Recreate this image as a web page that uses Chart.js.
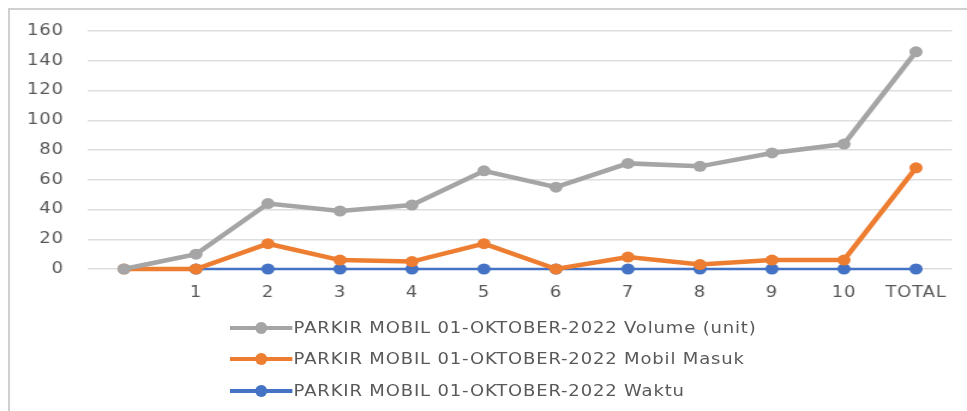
<!DOCTYPE html>
<html>
<head>
<meta charset="utf-8">
<script src="https://cdn.jsdelivr.net/npm/chart.js@4.4.0/dist/chart.umd.min.js"></script>
<style>
    html, body { margin: 0; padding: 0; background: #fff; overflow: hidden; width: 967px; height: 411px; }
    #chart { position: absolute; left: 0; top: 0; display: block; }
    #frame {
        position: absolute; left: 8px; top: 8px; width: 959px; height: 403px;
        border-top: 2px solid #d0d0d0; border-left: 2px solid #d0d0d0;
        box-sizing: border-box; pointer-events: none; z-index: 10;
    }
    /* the reference looks horizontally stretched, so the legend is stretched too */
    #legend { position: absolute; left: 230px; top: 312px; transform: scaleX(1.2); transform-origin: 0 0; }
    .item {
        height: 31.5px; display: flex; align-items: center;
        font: 15px "DejaVu Sans", sans-serif; color: #595959; letter-spacing: 0.7px;
        white-space: nowrap;
    }
    .mark { position: relative; width: 52px; height: 14px; margin-right: 1px; }
    .mark .ln { position: absolute; left: 0; right: 0; top: 5px; height: 4px; }
    .mark .dot { position: absolute; left: 21px; top: 1px; width: 10px; height: 12px; border-radius: 50%; }
</style>
</head>
<body>
<canvas id="chart" width="806" height="411"></canvas>
<div id="legend"></div>
<div id="frame"></div>
<script>
// chart data
const categories = ["", "1", "2", "3", "4", "5", "6", "7", "8", "9", "10", "TOTAL"];
const volumeUnit = [0, 10, 44, 39, 43, 66, 55, 71, 69, 78, 84, 146];
const mobilMasuk = [0, 0, 17, 6, 5, 17, 0, 8, 3, 6, 6, 68];
const waktu = [null, 0, 0, 0, 0, 0, 0, 0, 0, 0, 0, 0];
const yTicks = [0, 20, 40, 60, 80, 100, 120, 140, 160];

const colors = {
    gray: "#A5A5A5",
    orange: "#ED7D31",
    blue: "#4472C4",
    text: "#595959",
    grid: "#DEDEDE",
};

const series = [
    { label: "PARKIR MOBIL 01-OKTOBER-2022 Volume (unit)", data: volumeUnit, color: colors.gray, width: 4.5 },
    { label: "PARKIR MOBIL 01-OKTOBER-2022 Mobil Masuk", data: mobilMasuk, color: colors.orange, width: 4.5 },
    { label: "PARKIR MOBIL 01-OKTOBER-2022 Waktu", data: waktu, color: colors.blue, width: 2.5 },
];

const font = { family: "'DejaVu Sans', sans-serif", size: 15 };

// a little letter spacing for the canvas text
const spacing = {
    id: "spacing",
    beforeLayout: (chart) => { chart.ctx.letterSpacing = "0.7px"; },
    beforeDraw: (chart) => { chart.ctx.letterSpacing = "0.7px"; },
};

const canvas = document.getElementById("chart");
new Chart(canvas, {
    type: "line",
    data: {
        labels: categories,
        // lower order is drawn on top, so gray sits above orange and blue
        datasets: series.map((s, i) => ({
            label: s.label,
            data: s.data,
            borderColor: s.color,
            backgroundColor: s.color,
            borderWidth: s.width,
            pointRadius: 5.5,
            pointHoverRadius: 5.5,
            pointBorderWidth: 0,
            order: i,
            tension: 0,
            clip: false,
        })),
    },
    options: {
        responsive: false,
        devicePixelRatio: 1,
        animation: false,
        layout: { padding: { left: 0, right: 12.5, top: 31, bottom: 101 } },
        plugins: { legend: { display: false }, tooltip: { enabled: false } },
        scales: {
            x: {
                offset: true,
                grid: { display: false },
                border: { display: false },
                ticks: { color: colors.text, font: font, padding: 7, maxRotation: 0, autoSkip: false },
                afterFit: (scale) => { scale.height = 41; },
            },
            y: {
                min: 0,
                max: 160,
                afterBuildTicks: (scale) => { scale.ticks = yTicks.map((v) => ({ value: v })); },
                grid: { color: colors.grid, lineWidth: 1.5, drawTicks: false },
                border: { display: false },
                ticks: { color: colors.text, font: font, padding: 20 },
                afterFit: (scale) => { scale.width = 73.3; },
            },
        },
    },
    plugins: [spacing],
});
// stretch the drawn chart to the full width
canvas.style.width = "967px";
canvas.style.height = "411px";

// HTML legend, one series per row
const legend = document.getElementById("legend");
series.forEach((s) => {
    const row = document.createElement("div");
    row.className = "item";
    row.innerHTML =
        '<span class="mark"><span class="ln" style="background:' + s.color + '"></span>' +
        '<span class="dot" style="background:' + s.color + '"></span></span>' + s.label;
    legend.appendChild(row);
});
</script>
</body>
</html>
